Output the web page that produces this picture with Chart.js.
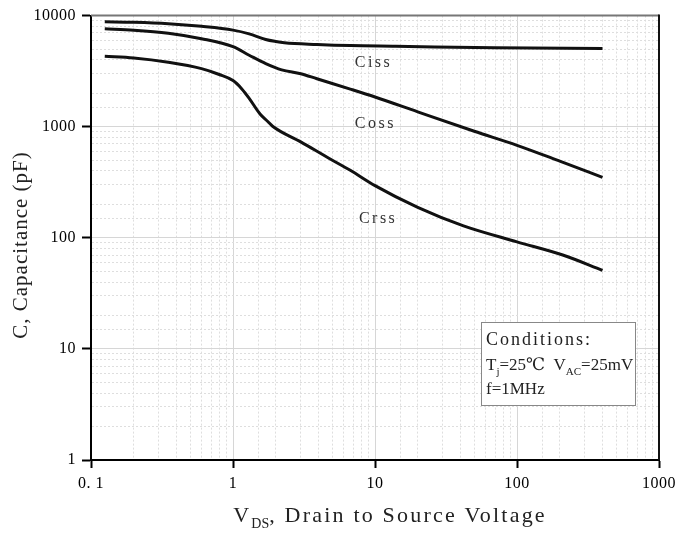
<!DOCTYPE html>
<html>
<head>
<meta charset="utf-8">
<script src="https://cdn.jsdelivr.net/npm/chart.js@4.4.1/dist/chart.umd.min.js"></script>
<style>
html, body { margin: 0; padding: 0; background: #fff; }
</style>
</head>
<body>
<canvas id="capChart" width="678" height="535"></canvas>
<script>
// VDS (V) sample points, with capacitance in pF
var vdsCiss = [0.125, 0.2, 0.35, 0.6, 1, 1.3, 1.7, 2.0, 2.3, 3.9, 6.7, 14, 70, 400];
var ciss    = [8800, 8700, 8450, 8000, 7400, 6850, 6100, 5850, 5700, 5500, 5370, 5300, 5130, 5050];

var vdsCoss = [0.125, 0.2, 0.35, 0.6, 1, 1.3, 1.7, 2.2, 3, 3.9, 6.7, 10, 20, 50, 100, 200, 400];
var coss    = [7600, 7400, 6950, 6200, 5250, 4400, 3700, 3250, 3000, 2700, 2180, 1850, 1360, 910, 680, 490, 350];

var vdsCrss = [0.125, 0.2, 0.35, 0.6, 0.8, 1, 1.15, 1.3, 1.55, 1.75, 1.9, 3, 4.8, 6.7, 10, 20, 42, 100, 210, 400];
var crss    = [4300, 4150, 3800, 3330, 2950, 2600, 2200, 1800, 1300, 1120, 1010, 730, 515, 405, 295, 188, 128, 92, 70, 51];

var xTicks = [0.1, 1, 10, 100, 1000];
var yTicks = [1, 10, 100, 1000, 10000];

// curve labels, placed in data units
var labelNames = ["Ciss", "Coss", "Crss"];
var labelVds = [7.2, 7.2, 7.7];
var labelCap = [3780, 1070, 147];

var serif = "'Liberation Serif', 'DejaVu Serif', serif";

function isDecade(v) {
    var l = Math.log10(v);
    return Math.abs(l - Math.round(l)) < 1e-9;
}

function toPoints(xs, ys) {
    return xs.map(function (x, i) { return { x: x, y: ys[i] }; });
}

//draw a run of text pieces, some as subscripts
function drawParts(ctx, parts, x, y, size, spacing, dry) {
    var total = 0;
    parts.forEach(function (p) {
        ctx.font = (p.sub ? Math.round(size * 0.62) : size) + "px " + serif;
        ctx.letterSpacing = (p.sub ? 0 : spacing) + "px";
        var w = ctx.measureText(p.t).width;
        if (!dry) ctx.fillText(p.t, x + total, p.sub ? y + size * 0.28 : y);
        total += w;
    });
    return total;
}

var spacingPlugin = {
    id: "spacing",
    beforeUpdate: function (chart) { chart.ctx.letterSpacing = "0.5px"; },
    beforeDraw: function (chart) { chart.ctx.letterSpacing = "0.5px"; }
};

var decorPlugin = {
    id: "decor",
    afterDraw: function (chart) {
        var ctx = chart.ctx;
        var a = chart.chartArea;
        var xs = chart.scales.x, ys = chart.scales.y;
        ctx.save();

        // top and right frame
        ctx.lineWidth = 2;
        ctx.strokeStyle = "#777";
        ctx.beginPath();
        ctx.moveTo(a.left, a.top);
        ctx.lineTo(a.right, a.top);
        ctx.stroke();
        ctx.strokeStyle = "#111";
        ctx.beginPath();
        ctx.moveTo(a.right, a.top - 1);
        ctx.lineTo(a.right, a.bottom);
        ctx.stroke();

        // curve names
        ctx.fillStyle = "#333";
        ctx.textAlign = "left";
        ctx.textBaseline = "middle";
        ctx.font = "16px " + serif;
        ctx.letterSpacing = "2.5px";
        labelNames.forEach(function (n, i) {
            ctx.fillText(n, xs.getPixelForValue(labelVds[i]), ys.getPixelForValue(labelCap[i]));
        });

        // conditions box
        var bx = a.right - 178, by = a.bottom - 138;
        ctx.fillStyle = "#fff";
        ctx.fillRect(bx, by, 154, 83);
        ctx.strokeStyle = "#888";
        ctx.lineWidth = 1;
        ctx.strokeRect(bx + 0.5, by + 0.5, 154, 83);
        ctx.fillStyle = "#222";
        ctx.textBaseline = "alphabetic";
        drawParts(ctx, [{ t: "Conditions:" }], bx + 5, by + 23, 18, 2);
        drawParts(ctx, [{ t: "T" }, { t: "j", sub: true }, { t: "=25\u2103  V" }, { t: "AC", sub: true }, { t: "=25mV" }],
            bx + 5, by + 48, 17, 0);
        drawParts(ctx, [{ t: "f=1MHz" }], bx + 5, by + 72, 17, 0);

        // x title
        ctx.fillStyle = "#222";
        var xParts = [{ t: "V" }, { t: "DS", sub: true }, { t: ", Drain to Source Voltage" }];
        var w = drawParts(ctx, xParts, 0, 0, 22, 2.2, true);
        drawParts(ctx, xParts, 390 - w / 2, 522, 22, 2.2);

        // y title
        ctx.translate(27, 245);
        ctx.rotate(-Math.PI / 2);
        ctx.textAlign = "center";
        ctx.font = "21px " + serif;
        ctx.letterSpacing = "1px";
        ctx.fillText("C, Capacitance (pF)", 0, 0);
        ctx.restore();
    }
};

var ctx = document.getElementById("capChart").getContext("2d");

function gridColor(c) {
    if (!c.tick) return "#000";
    return isDecade(c.tick.value) ? "#d6d6d6" : "#dedede";
}
function gridDash(c) {
    if (!c.tick) return [];
    return isDecade(c.tick.value) ? [] : [2, 2];
}
function tickColor(c) {
    if (!c.tick) return "#000";
    return isDecade(c.tick.value) ? "#000" : "rgba(0,0,0,0)";
}

window.capChart = new Chart(ctx, {
    type: "line",
    data: {
        datasets: [
            { label: "Ciss", data: toPoints(vdsCiss, ciss) },
            { label: "Coss", data: toPoints(vdsCoss, coss) },
            { label: "Crss", data: toPoints(vdsCrss, crss) }
        ]
    },
    options: {
        responsive: false,
        animation: false,
        layout: { padding: { top: 15, right: 19, left: 0, bottom: 0 } },
        elements: {
            line: { borderColor: "#111", borderWidth: 3, cubicInterpolationMode: "monotone", fill: false },
            point: { radius: 0 }
        },
        plugins: { legend: { display: false }, tooltip: { enabled: false } },
        scales: {
            x: {
                type: "logarithmic",
                min: xTicks[0],
                max: xTicks[xTicks.length - 1],
                afterFit: function (s) { s.height = 75; s.paddingRight = 0; s.paddingLeft = 0; },
                grid: { color: gridColor, tickColor: tickColor, tickLength: 8, tickWidth: 2 },
                border: { color: "#000", width: 2, dash: gridDash },
                ticks: {
                    autoSkip: false,
                    maxRotation: 0,
                    padding: 6,
                    color: "#000",
                    font: { family: serif, size: 16 },
                    callback: function (v) { return isDecade(v) ? (v < 1 ? "0. 1" : String(v)) : ""; }
                }
            },
            y: {
                type: "logarithmic",
                min: yTicks[0],
                max: yTicks[yTicks.length - 1],
                afterFit: function (s) { s.width = 91; },
                grid: { color: gridColor, tickColor: tickColor, tickLength: 9, tickWidth: 2 },
                border: { color: "#000", width: 2, dash: gridDash },
                ticks: {
                    autoSkip: false,
                    padding: 6,
                    color: "#000",
                    font: { family: serif, size: 16 },
                    callback: function (v) { return isDecade(v) ? String(v) : ""; }
                }
            }
        }
    },
    plugins: [spacingPlugin, decorPlugin]
});
</script>
</body>
</html>
